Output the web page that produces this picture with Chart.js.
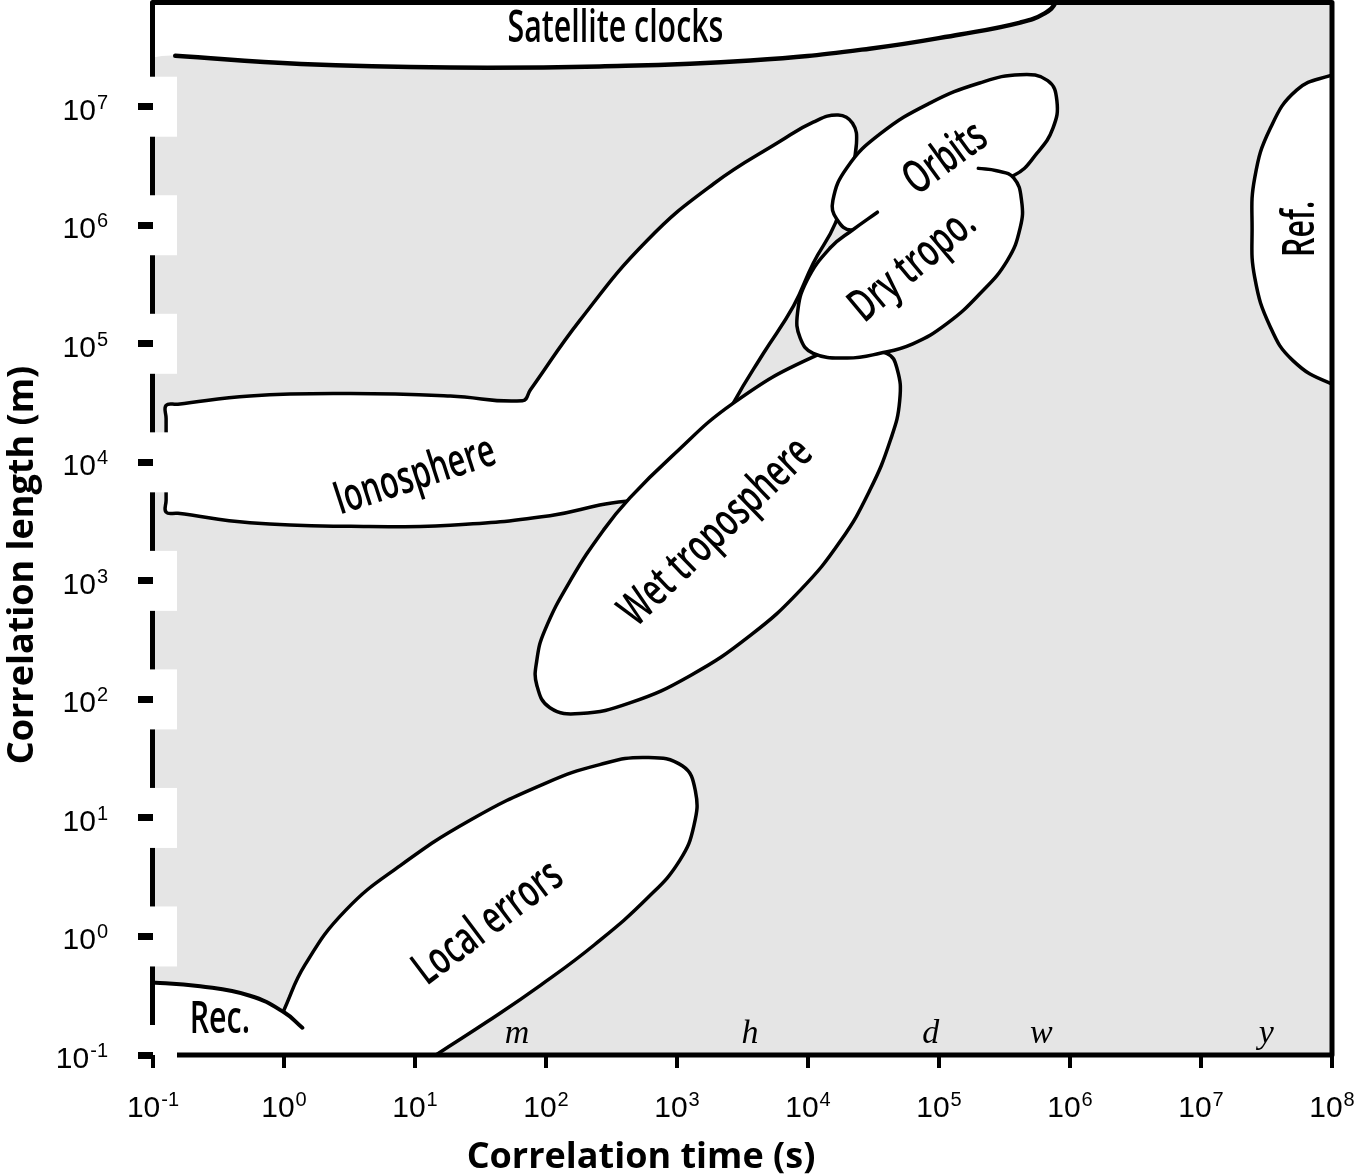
<!DOCTYPE html>
<html>
<head>
<meta charset="utf-8">
<script src="https://cdn.jsdelivr.net/npm/chart.js@4.4.1/dist/chart.umd.min.js"></script>
<style>
html,body{margin:0;padding:0;background:#ffffff;}
canvas{display:block;}
</style>
</head>
<body>
<canvas id="chart" width="1360" height="1176"></canvas>
<script>
// ---------------- data ----------------
// axis ranges and ticks (powers of ten)
const timeRange = [1e-1, 1e8];
const lengthRange = [1e-1, 7.5e7];
const timeTicks = [1e-1, 1e0, 1e1, 1e2, 1e3, 1e4, 1e5, 1e6, 1e7, 1e8];
const timeTickExponents = ['-1', '0', '1', '2', '3', '4', '5', '6', '7', '8'];
const lengthTicks = [1e-1, 1e0, 1e1, 1e2, 1e3, 1e4, 1e5, 1e6, 1e7];
const lengthTickExponents = ['-1', '0', '1', '2', '3', '4', '5', '6', '7'];

// time units marked inside the panel
const unitNames = ['m', 'h', 'd', 'w', 'y'];
const unitSeconds = [60, 3600, 86400, 604800, 31557600];
const unitLabelLength = 0.126;

// region outlines: [log10 correlation time (s), log10 correlation length (m)]
const satelliteClocksOutline = [[-0.83,7.43],[0.13,7.36],[1.27,7.33],[2.41,7.34],[3.56,7.39],[4.47,7.49],[5.16,7.61],[5.62,7.71],[5.81,7.79],[5.89,7.88],[5.94,8.06],[2.41,8.57],[-1.25,8.23],[-1.25,7.46]];
const ionosphereOutline = [[-0.90,4.48],[-0.81,4.49],[-0.26,4.56],[0.51,4.58],[1.27,4.56],[1.82,4.52],[1.88,4.61],[2.26,5.20],[2.77,5.87],[3.28,6.35],[3.79,6.71],[4.04,6.87],[4.23,6.93],[4.34,6.86],[4.37,6.69],[4.32,6.42],[4.21,6.02],[4.04,5.68],[3.89,5.32],[3.66,4.92],[3.43,4.50],[3.25,4.10],[2.91,3.76],[2.41,3.64],[2.03,3.55],[1.27,3.47],[0.51,3.46],[-0.26,3.49],[-0.81,3.57],[-0.90,3.58],[-0.90,3.68],[-0.90,4.37]];
const wetTroposphereOutline = [[1.93,2.33],[1.99,2.58],[2.19,3.01],[2.44,3.43],[2.64,3.70],[2.95,4.04],[3.43,4.50],[4.04,4.89],[4.32,4.95],[4.60,4.92],[4.68,4.79],[4.70,4.52],[4.63,4.19],[4.47,3.76],[4.25,3.34],[3.94,2.92],[3.56,2.54],[3.10,2.20],[2.64,1.97],[2.26,1.88],[2.03,1.93],[1.93,2.12]];
const orbitsOutline = [[4.19,6.21],[4.30,6.49],[4.55,6.77],[4.93,7.03],[5.31,7.20],[5.62,7.27],[5.83,7.22],[5.90,7.05],[5.87,6.82],[5.75,6.61],[5.57,6.42],[5.16,6.28],[4.70,6.11],[4.34,5.96],[4.22,6.05]];
const dryTroposphereOutline = [[5.30,6.48],[5.44,6.46],[5.57,6.40],[5.63,6.21],[5.62,5.98],[5.52,5.70],[5.31,5.42],[5.06,5.17],[4.80,5.00],[4.55,4.92],[4.30,4.88],[4.04,4.92],[3.94,5.05],[3.92,5.26],[3.99,5.53],[4.17,5.81],[4.34,5.96],[4.53,6.11],[4.89,6.31]];
const localErrorsOutline = [[-0.10,-0.87],[0.00,-0.62],[0.16,-0.24],[0.47,0.22],[0.89,0.60],[1.42,0.98],[1.99,1.29],[2.41,1.45],[2.76,1.51],[3.04,1.44],[3.14,1.23],[3.13,0.94],[3.02,0.64],[2.78,0.33],[2.37,-0.07],[1.96,-0.41],[1.55,-0.72],[1.16,-1.00],[0.89,-1.21],[0.13,-1.21]];
const receiverOutline = [[-1.17,-0.39],[-0.98,-0.39],[-0.64,-0.42],[-0.26,-0.50],[0.00,-0.64],[0.14,-0.77],[0.26,-1.08],[-0.41,-1.25],[-1.17,-1.25]];
const referenceOutline = [[8.21,7.31],[7.98,7.26],[7.73,7.14],[7.53,6.82],[7.41,6.40],[7.39,5.97],[7.41,5.56],[7.53,5.14],[7.70,4.86],[7.98,4.67],[8.21,4.63]];

// how many leading outline points carry a drawn edge (the rest is hidden)
const satelliteClocksEdgeCount = 11;
const dryTroposphereEdgeCount = 18;
const receiverEdgeCount = 6;

// region names and where their labels sit (log10 time, log10 length)
const regionNames = ['Satellite clocks', 'Ionosphere', 'Wet troposphere', 'Dry tropo.', 'Orbits', 'Local errors', 'Rec.', 'Ref.'];
const regionLabelLogTime = [2.53, 1.00, 3.30, 4.80, 5.05, 1.56, -0.49, 7.76];
const regionLabelLogLength = [7.66, 3.88, 3.41, 5.66, 6.56, 0.11, -0.70, 5.97];

// ---------------- styles ----------------
const labelAngles = [0, -18, -44, -40, -36, -37, 0, -90];
const PANEL_GREY = '#e5e5e5';
const OUTLINE = '#000000';
const TICK_FONT = '"Liberation Sans", Arial, "DejaVu Sans", sans-serif';
const REGION_FONT = '600 46px "Open Sans", "Liberation Sans", sans-serif';

// ---------------- closed-outline controller ----------------
class LoopLineController extends Chart.LineController {
  update(mode) {
    const line = this._cachedMeta.dataset;
    if (line) { line._loop = true; line._fullLoop = true; }
    super.update(mode);
  }
}
LoopLineController.id = 'loopline';
Chart.register(LoopLineController);

const toPoints = outline => outline.map(([lt, ll]) => ({x: Math.pow(10, lt), y: Math.pow(10, ll)}));

function region(outline, width) {
  return {type: 'loopline', data: toPoints(outline), fill: 'shape', backgroundColor: '#ffffff',
          borderColor: OUTLINE, borderWidth: width};
}
function regionFill(outline) {
  return {type: 'loopline', data: toPoints(outline), fill: 'shape', backgroundColor: '#ffffff',
          borderColor: 'rgba(0,0,0,0)', borderWidth: 0};
}
function regionEdge(outline, count, width) {
  return {type: 'line', data: toPoints(outline.slice(0, count)), fill: false,
          borderColor: OUTLINE, borderWidth: width};
}

const datasets = [
  regionFill(satelliteClocksOutline),
  regionEdge(satelliteClocksOutline, satelliteClocksEdgeCount, 4.5),
  region(ionosphereOutline, 3.5),
  region(wetTroposphereOutline, 3.5),
  region(orbitsOutline, 3.5),
  regionFill(dryTroposphereOutline),
  regionEdge(dryTroposphereOutline, dryTroposphereEdgeCount, 3.5),
  region(localErrorsOutline, 3.5),
  regionFill(receiverOutline),
  regionEdge(receiverOutline, receiverEdgeCount, 4),
  region(referenceOutline, 3.5)
];
datasets.forEach((d, i) => { d.order = datasets.length - i; d.pointRadius = 0; d.pointHoverRadius = 0; });

// power-of-ten label: "10" with a raised exponent
function drawPower(ctx, exp, x, baseline, align) {
  ctx.font = '30px ' + TICK_FONT;
  const wb = ctx.measureText('10').width;
  ctx.font = '20px ' + TICK_FONT;
  const we = ctx.measureText(exp).width;
  const total = wb + 1 + we;
  let left = align === 'right' ? x - total : x - total / 2;
  ctx.textAlign = 'left';
  ctx.textBaseline = 'alphabetic';
  ctx.font = '30px ' + TICK_FONT;
  ctx.fillText('10', left, baseline);
  ctx.font = '20px ' + TICK_FONT;
  ctx.fillText(exp, left + wb + 1, baseline - 11);
}

// ---------------- decorations drawn with the scales ----------------
const panelPlugin = {
  id: 'panel',
  beforeDatasetsDraw(chart) {
    const {ctx, chartArea: a} = chart;
    ctx.save();
    ctx.fillStyle = PANEL_GREY;
    ctx.fillRect(a.left, a.top, a.right - a.left, a.bottom - a.top);
    ctx.restore();
  },
  afterDatasetsDraw(chart) {
    const {ctx, chartArea: a, scales: {x, y}} = chart;
    ctx.save();
    // frame
    ctx.strokeStyle = '#000';
    ctx.lineWidth = 5;
    ctx.lineJoin = 'round';
    ctx.beginPath();
    ctx.moveTo(a.left - 0.5, a.bottom);
    ctx.lineTo(a.left - 0.5, a.top - 0.5);
    ctx.lineTo(a.right, a.top - 0.5);
    ctx.lineTo(a.right, a.bottom);
    ctx.closePath();
    ctx.stroke();
    // white breaks in the vertical axis at every tick
    ctx.fillStyle = '#ffffff';
    lengthTicks.forEach(v => {
      const py = y.getPixelForValue(v);
      ctx.fillRect(a.left - 3, py - 30, 27, 60);
    });
    // region labels
    ctx.fillStyle = '#000';
    ctx.font = REGION_FONT;
    ctx.textAlign = 'center';
    ctx.textBaseline = 'middle';
    regionNames.forEach((name, i) => {
      const px = x.getPixelForValue(Math.pow(10, regionLabelLogTime[i]));
      const py = y.getPixelForValue(Math.pow(10, regionLabelLogLength[i]));
      ctx.save();
      ctx.translate(px, py);
      ctx.rotate(labelAngles[i] * Math.PI / 180);
      ctx.scale(0.66, 1);
      ctx.fillText(name, 0, 0);
      ctx.restore();
    });
    // time unit markers
    ctx.font = 'italic 34px "Liberation Serif", "Times New Roman", serif';
    ctx.textBaseline = 'alphabetic';
    unitNames.forEach((n, i) => {
      ctx.fillText(n, x.getPixelForValue(unitSeconds[i]), y.getPixelForValue(unitLabelLength));
    });
    // axis titles
    ctx.font = 'bold 36px "Open Sans", "DejaVu Sans", sans-serif';
    ctx.fillText('Correlation time (s)', 641, 1168);
    ctx.save();
    ctx.translate(33, 565);
    ctx.rotate(-Math.PI / 2);
    ctx.fillText('Correlation length (m)', 0, 0);
    ctx.restore();
    ctx.restore();
  },
  afterDraw(chart) {
    const {ctx, chartArea: a, scales: {x, y}} = chart;
    ctx.save();
    ctx.fillStyle = '#000';
    timeTicks.forEach((v, i) => drawPower(ctx, timeTickExponents[i], x.getPixelForValue(v), a.bottom + 62, 'center'));
    lengthTicks.forEach((v, i) => drawPower(ctx, lengthTickExponents[i], a.left - 45, y.getPixelForValue(v) + 13, 'right'));
    ctx.restore();
  }
};

new Chart(document.getElementById('chart'), {
  type: 'line',
  data: {datasets},
  plugins: [panelPlugin],
  options: {
    responsive: false,
    animation: false,
    devicePixelRatio: 1,
    events: [],
    layout: {padding: {top: 3, right: 28, left: 0, bottom: 0}},
    elements: {
      point: {radius: 0, hoverRadius: 0},
      line: {tension: 0.45, capBezierPoints: false, borderJoinStyle: 'round', borderCapStyle: 'round'}
    },
    plugins: {legend: {display: false}, tooltip: {enabled: false}, title: {display: false}},
    scales: {
      x: {
        type: 'logarithmic', position: 'bottom', min: timeRange[0], max: timeRange[1],
        border: {display: false},
        grid: {display: true, drawOnChartArea: false, drawTicks: true, tickLength: 13, tickWidth: 4,
               lineWidth: 4, tickColor: '#000', color: '#000', z: 1},
        ticks: {display: false, autoSkip: false},
        afterBuildTicks: s => { s.ticks = timeTicks.map(v => ({value: v})); },
        afterFit: s => { s.height = 121; s.paddingLeft = 0; s.paddingRight = 0; }
      },
      y: {
        type: 'logarithmic', position: 'left', min: lengthRange[0], max: lengthRange[1],
        border: {display: false},
        grid: {display: true, drawOnChartArea: false, drawTicks: true, tickLength: 15, tickWidth: 7,
               lineWidth: 7, tickColor: '#000', color: '#000', z: 1},
        ticks: {display: false, autoSkip: false},
        afterBuildTicks: s => { s.ticks = lengthTicks.map(v => ({value: v})); },
        afterFit: s => { s.width = 153; s.paddingTop = 0; s.paddingBottom = 0; }
      }
    }
  }
});
</script>
</body>
</html>
